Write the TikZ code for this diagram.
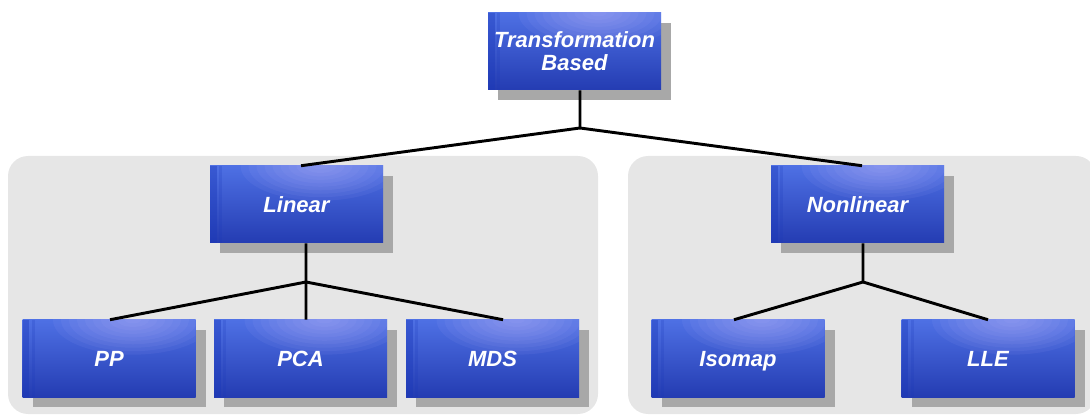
\documentclass[tikz,border=0pt]{standalone}
\usepackage{fontspec}
\setmainfont{Liberation Sans}
\usetikzlibrary{shadows}
\definecolor{boxtop}{RGB}{78,112,228}
\definecolor{boxbot}{RGB}{36,60,178}
\definecolor{hilite}{RGB}{190,185,255}
\definecolor{stripe}{RGB}{25,55,185}
\definecolor{shadowgray}{RGB}{168,168,168}
\definecolor{panelgray}{RGB}{230,230,230}
\tikzset{
  box/.style={minimum width=129.75pt, minimum height=57.75pt, inner sep=0pt,
    font=\bfseries\itshape\fontsize{16.5}{17.25}\selectfont, text=white,
    text height=11.8pt, text depth=0pt,
    top color=boxtop, bottom color=boxbot,
    general shadow={fill=shadowgray, shadow xshift=7.5pt, shadow yshift=-7.5pt},
    path picture={
      \foreach \k in {1,...,10}{
        \fill[hilite, opacity=0.07] ([xshift=18pt]path picture bounding box.north) ellipse ({6pt*\k} and {2.6pt*\k});
      }
      \fill[stripe, opacity=0.4] (path picture bounding box.south west) rectangle ([xshift=5pt]path picture bounding box.north west);
      \fill[stripe, opacity=0.2] ([xshift=7pt]path picture bounding box.south west) rectangle ([xshift=9pt]path picture bounding box.north west);
    }},
  twoline/.style={align=center, text height=, text depth=},
  panel/.style={fill=panelgray, rounded corners=15pt},
  link/.style={line width=2.2pt, black}
}
\begin{document}
\begin{tikzpicture}[x=0.75pt, y=-0.75pt]
\useasboundingbox (0,0) rectangle (1090,417);
\fill[panel] (8,156) rectangle (598,414);
\fill[panel] (628,156) rectangle (1096,414);

\node[box, twoline] (top) at (574.5,51.5) {Transformation\\Based};
\node[box] (lin) at (296.5,204.5) {Linear};
\node[box] (non) at (857.5,204.5) {Nonlinear};
\node[box] (pp) at (109,358.5) {PP};
\node[box] (pca) at (300.5,358.5) {PCA};
\node[box] (mds) at (492.5,358.5) {MDS};
\node[box] (iso) at (738,358.5) {Isomap};
\node[box] (lle) at (988,358.5) {LLE};

\coordinate (j0) at (580,128);
\coordinate (j1) at (306,282);
\coordinate (j2) at (863,282);

\draw[link] ([xshift=4.1pt]top.south) -- (j0);
\draw[link] (j0) -- ([xshift=3.4pt]lin.north);
\draw[link] (j0) -- ([xshift=3.4pt]non.north);
\draw[link] ([xshift=7.1pt]lin.south) -- (j1);
\draw[link] (j1) -- ([xshift=0.75pt]pp.north);
\draw[link] (j1) -- ([xshift=4.1pt]pca.north);
\draw[link] (j1) -- ([xshift=7.9pt]mds.north);
\draw[link] ([xshift=4.1pt]non.south) -- (j2);
\draw[link] (j2) -- ([xshift=-3pt]iso.north);
\draw[link] (j2) -- ([xshift=0pt]lle.north);
\end{tikzpicture}
\end{document}
